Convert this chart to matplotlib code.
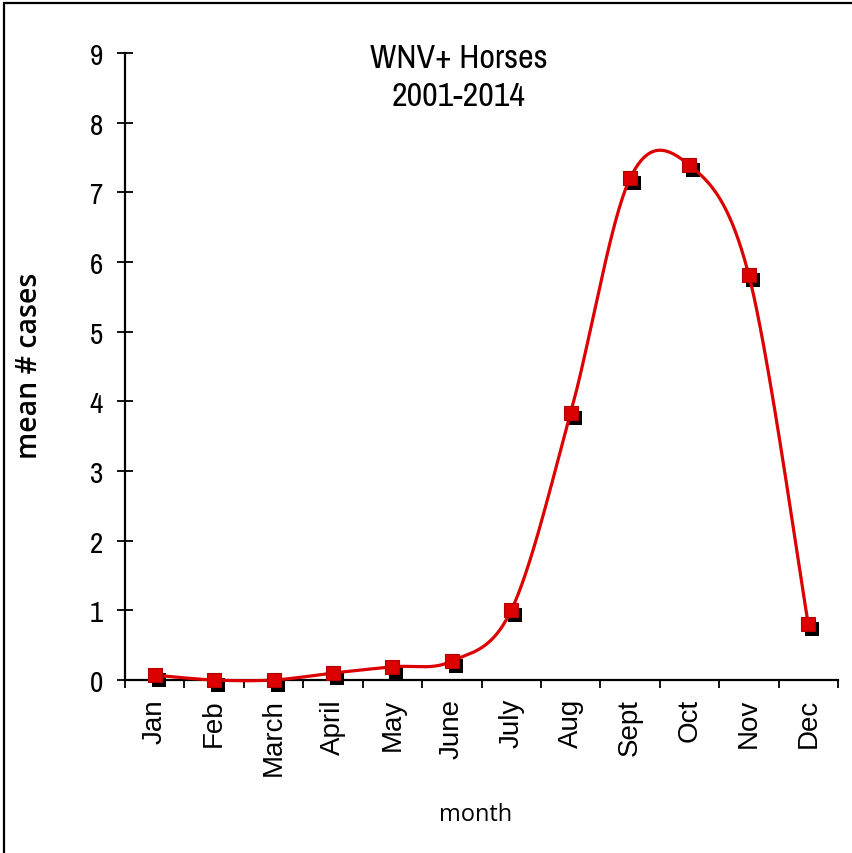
import os
import numpy as np
import matplotlib
matplotlib.use("Agg")
import matplotlib.pyplot as plt
import matplotlib.transforms as mtransforms
from matplotlib.patches import Rectangle
from matplotlib import font_manager

# mean monthly WNV+ horse cases, 2001-2014
months = ['Jan', 'Feb', 'March', 'April', 'May', 'June',
          'July', 'Aug', 'Sept', 'Oct', 'Nov', 'Dec']
mean_cases = [0.07, 0.0, 0.0, 0.1, 0.19, 0.27, 1.0, 3.83, 7.2, 7.39, 5.81, 0.8]
yticks = [0, 1, 2, 3, 4, 5, 6, 7, 8, 9]

RED = '#dd0000'

# regular-weight narrow face for the numbers and title
cond = []
for f in font_manager.fontManager.ttflist:
    base = os.path.basename(f.fname)
    if ('Condensed' in base or 'Narrow' in base) and not any(
            k in base for k in ['Bold', 'Oblique', 'Italic', 'Light', 'Medium', 'Semi']):
        cond.append(f.fname)
cond.sort(key=lambda p: ('Narrow' not in p, p))


def smooth_curve(x, y, n=40):
    # bezier segments with catmull-rom style control points (like a spreadsheet "smoothed line")
    x = np.asarray(x, float); y = np.asarray(y, float)
    xs, ys = [], []
    for i in range(len(x) - 1):
        x0, y0 = (x[i-1], y[i-1]) if i > 0 else (x[i], y[i])
        x3, y3 = (x[i+2], y[i+2]) if i + 2 < len(x) else (x[i+1], y[i+1])
        c1x = x[i] + (x[i+1] - x0) / 6; c1y = y[i] + (y[i+1] - y0) / 6
        c2x = x[i+1] - (x3 - x[i]) / 6; c2y = y[i+1] - (y3 - y[i]) / 6
        t = np.linspace(0, 1, n)
        a, b, c, d = (1-t)**3, 3*(1-t)**2*t, 3*(1-t)*t**2, t**3
        xs.append(a*x[i] + b*c1x + c*c2x + d*x[i+1])
        ys.append(a*y[i] + b*c1y + c*c2y + d*y[i+1])
    return np.concatenate(xs), np.concatenate(ys)


if cond:
    narrow = font_manager.FontProperties(fname=cond[0])
else:
    narrow = font_manager.FontProperties(family='DejaVu Sans', stretch='condensed')

fig = plt.figure(figsize=(8.52, 8.54), dpi=100)
ax = fig.add_axes([125/852, 1 - 681/854, (838-125)/852, (681-54)/854])

xpos = np.arange(len(months)) + 0.5
cx, cy = smooth_curve(xpos, mean_cases)
ax.plot(cx, cy, color=RED, lw=2.3, clip_on=False, zorder=3)

# black drop shadow under the square markers
shadow = mtransforms.offset_copy(ax.transData, fig=fig, x=4, y=-5, units='dots')
ax.plot(xpos, mean_cases, 's', color='black', ms=10, mew=0, transform=shadow,
        clip_on=False, zorder=2)
ax.plot(xpos, mean_cases, 's', color=RED, mec='#b00000', ms=10, mew=0.8,
        clip_on=False, zorder=4)

ax.set_xlim(0, 12)
ax.set_ylim(0, 9)
for s in ['top', 'right']:
    ax.spines[s].set_visible(False)
for s in ['left', 'bottom']:
    ax.spines[s].set_linewidth(1.6)

ax.set_yticks(yticks)
ax.set_yticklabels([str(v) for v in yticks])
for lab in ax.get_yticklabels():
    lab.set_fontproperties(narrow)
    lab.set_fontsize(21)
ax.tick_params(axis='y', direction='inout', length=11.5, width=1.3, pad=10)

ax.set_xticks(xpos)
ax.set_xticklabels(months, rotation=90, fontsize=20, family='Liberation Sans')
ax.tick_params(axis='x', length=0, pad=13)
ax.set_xticks(np.arange(0, 13), minor=True)
ax.tick_params(axis='x', which='minor', direction='out', length=5.8, width=1.3)

t = fig.text(459/852, 1 - 78/854, 'WNV+ Horses\n2001-2014', ha='center', va='center',
             linespacing=1.35)
t.set_fontproperties(narrow)
t.set_fontsize(24.5)
fig.text(30/852, 1 - 366/854, 'mean # cases', rotation=90, ha='center', va='center',
         fontsize=20.5, family='Open Sans', fontweight='semibold')
fig.text(476/852, 1 - 815/854, 'month', ha='center', va='center',
         fontsize=17, family='Open Sans')

# outer frame
fig.patches.append(Rectangle((4/852, -0.05), 1.2, 1 - 4/854 + 0.05, transform=fig.transFigure,
                             fill=False, ec='black', lw=1.6))

fig.savefig('out.png', dpi=100)
